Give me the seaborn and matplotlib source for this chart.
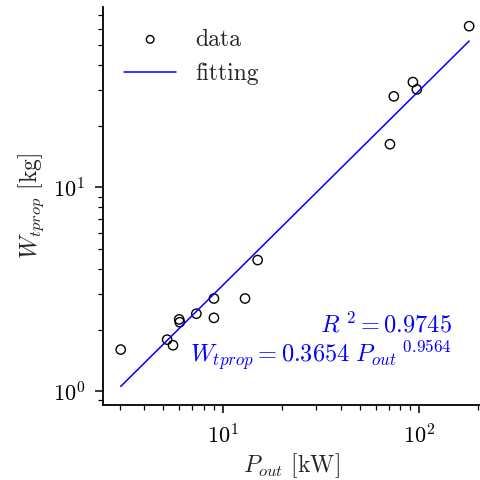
import numpy as np
import pandas as pd
import matplotlib
matplotlib.use('Agg')
import matplotlib.pyplot as plt
import seaborn as sns

# values (log-log)
p_out = [3.03, 5.22, 5.59, 6.01, 6.05, 7.35, 9.03, 9.03, 13.0, 15.07, 71.0, 74.3, 92.9, 97.3, 179.6]
w_tprop = [1.60, 1.79, 1.68, 2.25, 2.18, 2.40, 2.85, 2.29, 2.85, 4.40, 16.3, 28.0, 32.9, 30.3, 61.9]

# power-law fit from the chart annotation
coef = 0.3654
expo = 0.9564
r2 = 0.9745

sns.set_theme(style='ticks')
plt.rcParams['font.family'] = 'serif'
plt.rcParams['font.serif'] = ['cmr10', 'DejaVu Serif']
plt.rcParams['mathtext.fontset'] = 'cm'
plt.rcParams['axes.unicode_minus'] = False
plt.rcParams['axes.formatter.use_mathtext'] = True

df = pd.DataFrame({'P': p_out, 'W': w_tprop})
fit = pd.DataFrame({'P': [min(p_out), max(p_out)]})
fit['W'] = coef * fit['P'] ** expo

fig = plt.figure(figsize=(4.81, 4.8), dpi=100)
ax = fig.add_axes([0.214, 0.156, 0.784, 0.829])

sns.scatterplot(data=df, x='P', y='W', ax=ax, marker='o', s=45,
                facecolor='none', edgecolor='black', linewidth=1.0, label='data')
sns.lineplot(data=fit, x='P', y='W', ax=ax, color='blue', linewidth=1.1, label='fitting')

ax.set_xscale('log')
ax.set_yscale('log')
ax.set_xlim(2.46, 204)
ax.set_ylim(0.854, 76.7)
sns.despine(ax=ax)
for s in ['left', 'bottom']:
    ax.spines[s].set_linewidth(1.3)
    ax.spines[s].set_color('black')
ax.tick_params(which='major', length=6, width=1.1, labelsize=16, colors='black', pad=7)
ax.tick_params(which='minor', length=3.5, width=0.9, colors='black')

ax.set_xlabel(r'$P_{out}$ [kW]', fontsize=17, labelpad=3)
ax.set_ylabel(r'$W_{tprop}$ [kg]', fontsize=17, labelpad=5)

leg = ax.legend(loc='upper left', frameon=False, fontsize=17, handlelength=2.2)
leg.legend_handles[0].set_sizes([30])

ax.text(0.926, 0.182, r'$R^{\ 2} = %.4f$' % r2, transform=ax.transAxes,
        ha='right', va='baseline', color='blue', fontsize=17.5)
ax.text(0.926, 0.106, r'$W_{tprop} = %.4f\ P_{out}{}^{\ %.4f}$' % (coef, expo),
        transform=ax.transAxes, ha='right', va='baseline', color='blue', fontsize=17.5)

fig.savefig('out.png', dpi=100)
